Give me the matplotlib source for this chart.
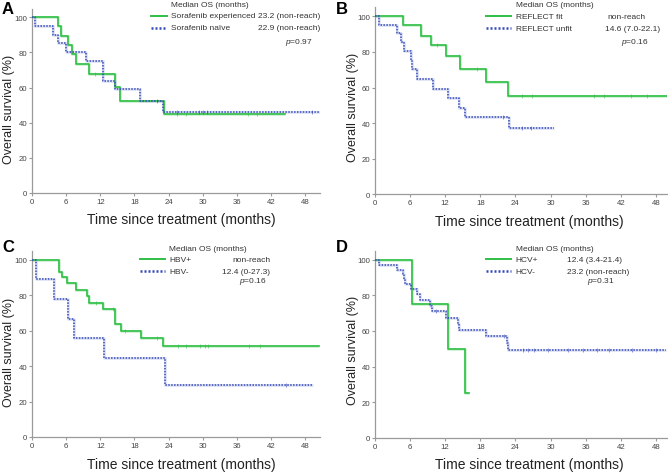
import numpy as np
import matplotlib
matplotlib.use("Agg")
import matplotlib.pyplot as plt
from matplotlib.lines import Line2D

plt.rcParams['font.family'] = ['Liberation Sans', 'DejaVu Sans']
plt.rcParams['mathtext.fontset'] = 'custom'
plt.rcParams['mathtext.it'] = 'Liberation Sans:italic'
plt.rcParams['mathtext.rm'] = 'Liberation Sans'

# ---------------- data ----------------
x_ticks = [0, 6, 12, 18, 24, 30, 36, 42, 48]
y_ticks = [0, 20, 40, 60, 80, 100]

# Panel A
A_exp_t = [4.6, 5.1, 6.3, 7.1, 7.7, 10.0, 14.6, 15.4, 23.2]
A_exp_s = [94.9, 89.6, 84.3, 79.1, 73.4, 67.7, 60.2, 52.6, 45.1]
A_exp_cens = [11.0, 25.5, 27.0, 38.0, 39.5]
A_exp_end = 44.5
A_nai_t = [0.5, 3.75, 4.6, 6.0, 9.5, 12.4, 14.6, 19.0, 23.1]
A_nai_s = [95.0, 90.0, 85.2, 80.0, 75.0, 64.0, 59.2, 52.6, 46.0]
A_nai_cens = [21.9, 25.4, 29.4, 30.1, 30.8, 49.2]
A_nai_end = 50.6

# Panel B
B_fit_t = [4.8, 7.8, 9.5, 12.2, 14.5, 18.9, 22.7]
B_fit_s = [94.9, 89.1, 83.7, 77.5, 70.6, 62.9, 55.0]
B_fit_cens = [10.6, 14.3, 17.5, 25.2, 26.9, 37.4, 39.1, 43.7, 46.5]
B_fit_end = 49.9
B_unf_t = [0.7, 3.8, 4.5, 5.0, 6.1, 6.3, 7.2, 9.9, 12.4, 14.4, 15.4, 22.9]
B_unf_s = [95.3, 90.6, 85.8, 80.5, 75.5, 70.2, 64.8, 59.4, 54.0, 48.5, 43.2, 37.0]
B_unf_cens = [21.8, 25.2, 26.6]
B_unf_end = 30.6

# Panel C
C_pos_t = [4.8, 5.2, 6.1, 7.8, 9.7, 10.0, 12.4, 14.6, 15.6, 19.2, 23.0]
C_pos_s = [93.2, 90.4, 86.6, 83.0, 79.3, 75.8, 72.0, 64.0, 60.0, 55.6, 51.2]
C_pos_cens = [11.3, 14.3, 16.3, 21.9, 25.7, 27.1, 29.5, 30.4, 30.9, 38.2, 40.0]
C_pos_end = 50.5
C_neg_t = [0.7, 3.9, 6.4, 7.3, 12.7, 23.3]
C_neg_s = [88.9, 77.8, 66.7, 55.6, 44.4, 29.6]
C_neg_cens = [44.7]
C_neg_end = 49.4

# Panel D
D_pos_t = [6.3, 12.4, 15.3]
D_pos_s = [75.0, 50.0, 25.0]
D_pos_cens = []
D_pos_end = 16.1
D_neg_t = [0.7, 3.8, 4.7, 5.0, 5.2, 6.1, 7.2, 7.7, 9.4, 9.8, 12.1, 14.2, 14.4, 18.9, 22.5, 22.7]
D_neg_s = [97.2, 94.4, 91.7, 88.9, 86.1, 83.3, 80.5, 77.2, 74.0, 71.0, 67.5, 64.0, 60.5, 57.0, 53.0, 49.4]
D_neg_cens = [10.5, 22.0, 25.3, 26.2, 27.2, 29.5, 33.0, 35.5, 38.0, 40.0, 44.0, 48.0]
D_neg_end = 49.7

GREEN = '#2fbf45'
GREEN_H = '#a6e3ad'
BLUE = '#3349b8'
BLUE_H = '#c3cbec'

W, H = 668, 477
fig = plt.figure(figsize=(W / 100, H / 100), dpi=100)


def fx(px):
    return px / W


def fy(py):
    return 1 - py / H


def km(ax, t, s, cens, end, color, halo, dotted):
    xs = np.concatenate([[0], t, [end]])
    ys = np.concatenate([[100], s, [s[-1]]])
    ax.step(xs, ys, where='post', color=halo, lw=2.0, alpha=0.55, zorder=2,
            solid_capstyle='butt')
    ax.step(xs, ys, where='post', color=color, lw=1.1 if dotted else 1.2,
            linestyle=(0, (1, 0.9)) if dotted else '-', zorder=3)
    if len(cens):
        idx = np.searchsorted(np.asarray(t), np.asarray(cens), side='right')
        sv = np.concatenate([[100], s])[idx]
        ax.plot(cens, sv, linestyle='none', marker='|', ms=3.5, mew=0.7,
                color=color, alpha=0.55, zorder=4)


def setup(ax, xmax):
    ax.set_xlim(0, xmax)
    ax.set_ylim(0, 105)
    for sp in ['top', 'right']:
        ax.spines[sp].set_visible(False)
    for sp in ['left', 'bottom']:
        ax.spines[sp].set_color('#9a9a9a')
        ax.spines[sp].set_linewidth(0.9)
    ax.set_xticks(x_ticks)
    ax.set_yticks(y_ticks)
    ax.tick_params(axis='both', labelsize=5.6, colors='#9a9a9a',
                   labelcolor='#444444', length=2.5, width=0.8, pad=1)
    ax.set_xlabel('Time since treatment (months)', fontsize=10, color='#222222')
    ax.set_ylabel('Overall survival (%)', fontsize=9, color='#222222')


def legend(names, values, pvals, header_y, line_x, rows_y, name_x, val_x, p_xy):
    fs = 6.0
    fig.text(fx(name_x), fy(header_y), 'Median OS (months)', fontsize=fs,
             color='#333333', va='center', ha='left')
    styles = [dict(color=GREEN, lw=1.4), dict(color=BLUE, lw=1.8, linestyle=(0, (0.8, 0.8)))]
    for i in range(2):
        fig.add_artist(Line2D([fx(line_x[0]), fx(line_x[1])], [fy(rows_y[i])] * 2,
                              transform=fig.transFigure, **styles[i]))
        fig.text(fx(name_x), fy(rows_y[i]), names[i], fontsize=fs, color='#333333',
                 va='center', ha='left')
        fig.text(fx(val_x[i]), fy(rows_y[i]), values[i], fontsize=fs, color='#333333',
                 va='center', ha='left')
    fig.text(fx(p_xy[0]), fy(p_xy[1]), r'$\mathit{p}$=' + pvals, fontsize=fs,
             color='#333333', va='center', ha='left')


def add_axes(left, y0, width, pxunit):
    h = 105 * pxunit
    return fig.add_axes([fx(left), fy(y0), fx(width), h / H])


axA = add_axes(32, 194.0, 288, 1.757)
axB = add_axes(375, 195.3, 292, 1.78)
axC = add_axes(32, 438.0, 288, 1.773)
axD = add_axes(375, 438.7, 292, 1.78)

setup(axA, 50.6)
setup(axB, 49.9)
setup(axC, 50.6)
setup(axD, 49.9)

km(axA, A_exp_t, A_exp_s, A_exp_cens, A_exp_end, GREEN, GREEN_H, False)
km(axA, A_nai_t, A_nai_s, A_nai_cens, A_nai_end, BLUE, BLUE_H, True)
km(axB, B_fit_t, B_fit_s, B_fit_cens, B_fit_end, GREEN, GREEN_H, False)
km(axB, B_unf_t, B_unf_s, B_unf_cens, B_unf_end, BLUE, BLUE_H, True)
km(axC, C_pos_t, C_pos_s, C_pos_cens, C_pos_end, GREEN, GREEN_H, False)
km(axC, C_neg_t, C_neg_s, C_neg_cens, C_neg_end, BLUE, BLUE_H, True)
km(axD, D_pos_t, D_pos_s, D_pos_cens, D_pos_end, GREEN, GREEN_H, False)
km(axD, D_neg_t, D_neg_s, D_neg_cens, D_neg_end, BLUE, BLUE_H, True)

for ax, xl, yl in [(axA, (0.52, -0.105), (-0.06, 0.46)),
                   (axB, (0.53, -0.105), (-0.055, 0.47)),
                   (axC, (0.52, -0.105), (-0.06, 0.46)),
                   (axD, (0.53, -0.105), (-0.055, 0.47))]:
    ax.xaxis.set_label_coords(*xl)
    ax.yaxis.set_label_coords(*yl)

for letter, (px, py) in zip('ABCD', [(2, 9), (336, 9), (2, 248), (336, 248)]):
    fig.text(fx(px), fy(py), letter, fontsize=12, fontweight='bold', va='center', ha='left')

legend(['Sorafenib experienced', 'Sorafenib naïve'], ['23.2 (non-reach)', '22.9 (non-reach)'], '0.97',
       5.7, (150.7, 166.7), (16.5, 28.5), 170.7, (258, 258), (285, 42.3))
legend(['REFLECT fit', 'REFLECT unfit'], ['non-reach', '14.6 (7.0-22.1)'], '0.16',
       5.7, (486, 511), (17.3, 29.3), 516, (607, 605), (621, 42.3))
legend(['HBV+', 'HBV-'], ['non-reach', '12.4 (0-27.3)'], '0.16',
       249.7, (140, 165), (260.3, 272.3), 169.3, (232.7, 221.7), (239, 281.3))
legend(['HCV+', 'HCV-'], ['12.4 (3.4-21.4)', '23.2 (non-reach)'], '0.31',
       249.3, (485.7, 510.7), (260.3, 272.3), 515.7, (566.7, 566.7), (586.7, 281.3))

fig.savefig('out.png', dpi=100)
